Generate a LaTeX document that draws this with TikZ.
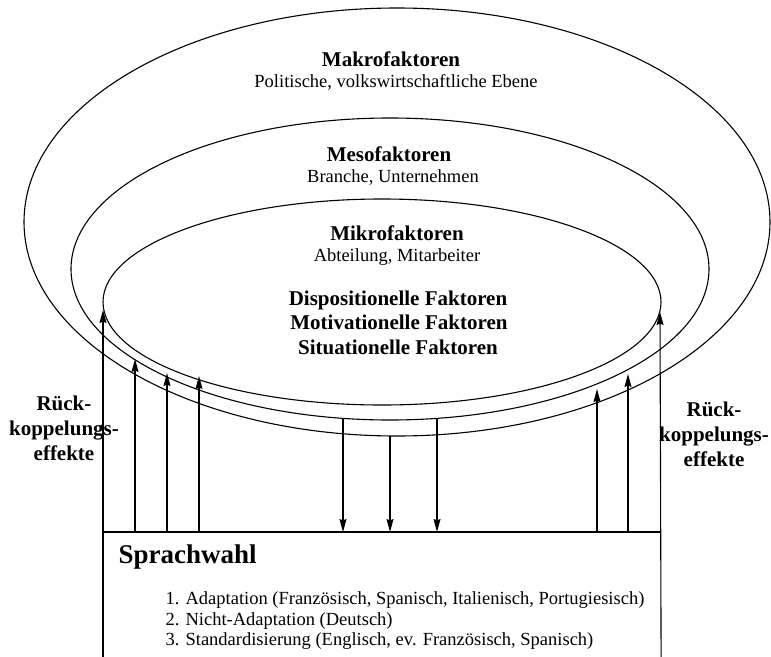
\documentclass[tikz,border=0pt]{standalone}
\usepackage{fontspec}
\setmainfont{Liberation Serif}
\usetikzlibrary{arrows.meta}
\usetikzlibrary{shapes.geometric}

\begin{document}
\begin{tikzpicture}[x=1pt, y=-1pt,
        >={Stealth[length=13pt,width=7pt,inset=1.5pt]},
        line width=1.1pt,
        ring/.style={
        draw=black,
        ellipse,
        inner sep=0pt},
        head/.style={anchor=base, inner sep=0pt, font=\fontsize{21}{24}\selectfont\bfseries},
        sub/.style={anchor=base, inner sep=0pt, font=\fontsize{18.5}{22}\selectfont},
        feedback/.style={align=center, inner sep=0pt, font=\fontsize{21}{25}\selectfont\bfseries},
        item/.style={anchor=base west, inner sep=0pt, font=\fontsize{18.5}{22}\selectfont}]

        \useasboundingbox (0,0) rectangle (771,656);

        % the three levels
        \node[ring, minimum width=746pt, minimum height=428pt] (outer) at (397,222) {};
        \node[ring, minimum width=638pt, minimum height=302pt] (middle) at (390,269) {};
        \node[ring, minimum width=558pt, minimum height=206pt] (inner) at (382,302) {};

        \node[head] (makro) at (391,66) {Makrofaktoren};
        \node[sub] (makrosub) at (396,87) {Politische, volkswirtschaftliche Ebene};
        \node[head] (meso) at (389,161.5) {Mesofaktoren};
        \node[sub] (mesosub) at (393,182.5) {Branche, Unternehmen};
        \node[head] (mikro) at (397,240.5) {Mikrofaktoren};
        \node[sub] (mikrosub) at (397,261.5) {Abteilung, Mitarbeiter};
        \node[head] (disp) at (398,305) {Dispositionelle Faktoren};
        \node[head] (motiv) at (399,329.5) {Motivationelle Faktoren};
        \node[head] (situ) at (398,354) {Situationelle Faktoren};

        % language choice
        \node[minimum width=557pt, minimum height=124pt, anchor=north west, inner sep=0pt] (sprach) at (103,532) {};
        \draw (sprach.north west) -- (sprach.north east);
        \node[anchor=base west, inner sep=0pt, font=\fontsize{27}{30}\selectfont\bfseries] (sprachtitle) at (118,563) {Sprachwahl};
        \node[item] (l1) at (165,604) {1. Adaptation (Französisch, Spanisch, Italienisch, Portugiesisch)};
        \node[item] (l2) at (165,625) {2. Nicht-Adaptation (Deutsch)};
        \node[item] (l3) at (165,645.5) {3. Standardisierung (Englisch, ev. Französisch, Spanisch)};

        \node[feedback] (rueckl) at (64,428) {Rück-\\koppelungs-\\effekte};
        \node[feedback] (rueckr) at (714,434) {Rück-\\koppelungs-\\effekte};

        % feedback arrows up
        \coordinate (tipl) at (103,310);
        \coordinate (tipr) at (660,312);
        \draw[->] (sprach.south west) -- (tipl);
        \draw[->] (sprach.south east) -- (tipr);
        \foreach \i/\x/\y in {1/135/359, 2/167/373, 3/199/376, 4/597/389, 5/628/374} {
            \coordinate (up\i) at (\x,\y);
            \draw[->] (up\i |- sprach.north) -- (up\i);
        }

        % influence arrows down
        \foreach \i/\x/\y in {1/343/419, 2/390/436, 3/437/419} {
            \coordinate (dn\i) at (\x,\y);
            \draw[->] (dn\i) -- (dn\i |- sprach.north);
        }
\end{tikzpicture}
\end{document}
